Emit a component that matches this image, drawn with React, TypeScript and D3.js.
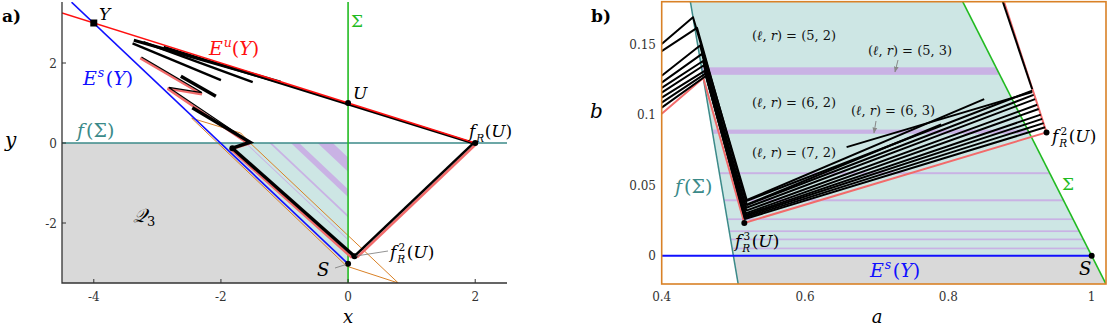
import * as d3 from "d3";

type P = [number, number];

// ---------- panel a ----------
const ticksXA = [-4, -2, 0, 2];
const ticksYA = [-2, 0, 2];
const ptY: P = [-4, 3];
const ptU: P = [0, 1];
const ptFR: P = [2, 0];
const ptFR2: P = [0.1, -2.83];
const ptS: P = [0, -3.02];
const ptKink: P = [-1.82, -0.13];
const esLineA: P[] = [[-4.35, 3.52], [0, -3.02]];
const euLineA: P[] = [[-4.5, 3.25], [2, 0]];
const fSigmaA: P[] = [[-4.5, 0], [2.5, 0]];
const sigmaA: P[] = [[0, 3.55], [0, -3.5]];
const grayA: P[] = [[-4.5, 0], [-2, 0], [0, -3.02], [0, -3.5], [-4.5, -3.5]];
const cyanA: P[] = [[-2, 0], [0, 0], [0, -3.02]];
// purple bands: x where band edges meet y = 0
const bandsA: P[] = [[-1.24, -1.2], [-0.9, -0.77], [-0.48, -0.24], [-1.62, -1.6]];
const orangeA: P[] = [[-2.46, 0.62], [-0.02, -3.08], [0.79, -3.5], [-1.54, 0], [-1.69, 0.25], [-2.46, 0.62]];
const pinkA: P[] = [[-3.27, 2.12], [-2.3, 1.22], [-2.84, 1.36], [-1.57, -0.02], [-1.84, -0.16], [0.06, -2.87]];
const thinA: P[] = [[-3.25, 2.15], [-2.3, 1.26], [-2.82, 1.39], [-1.54, 0.02], [-1.82, -0.13], [0.1, -2.83]];
const thickA: P[][] = [
  [[-2.63, 1.67], [-2.08, 1.17]],
  [[-2.45, 0.88], [-1.54, 0.02], [-1.82, -0.13]],
  [[-1.82, -0.13], [0.1, -2.83]],
];
const fanA: P[][] = [
  [[-3.37, 2.57], [-1.06, 1.52]],
  [[-3.39, 2.49], [-2.0, 1.57]],
  [[-3.22, 2.52], [-1.5, 1.52]],
  [[-2.9, 2.4], [2, -0.02]],
];
const returnPinkA: P[] = [[2.03, 0], [0.14, -2.86]];
const returnBlackA: P[] = [[1.98, 0.01], [0.1, -2.83]];

// ---------- panel b ----------
const ticksXB = [0.4, 0.6, 0.8, 1];
const ticksYB = [0, 0.05, 0.1, 0.15];
const tickLabelsXB = ["0.4", "0.6", "0.8", "1"];
const tickLabelsYB = ["0", "0.05", "0.1", "0.15"];
const fSigmaB: P[] = [[0.44, 0.18], [0.5067, -0.02]];
const sigmaB: P[] = [[0.82, 0.18], [1.02, -0.02]];
const esLineB: P[] = [[0.4, 0], [1, 0]];
const cyanB: P[] = [[0.44, 0.18], [0.82, 0.18], [1, 0], [0.5, 0]];
const grayB: P[] = [[0.5, 0], [1, 0], [1.02, -0.02], [0.5067, -0.02]];
const bandsB: P[] = [
  [0.1282, 0.1335], [0.0864, 0.0894], [0.0578, 0.0592], [0.0386, 0.04],
  [0.0253, 0.0265], [0.0168, 0.018], [0.011, 0.0122], [0.0046, 0.0058],
];
const redB: P[] = [[0.4, 0.1006], [0.458, 0.126], [0.5153, 0.0233], [0.937, 0.0874], [0.877, 0.181]];
const ptFR3B: P = [0.5153, 0.0233];
const ptFR2B: P = [0.937, 0.0874];
const ptSB: P = [1, 0];
// black iterates: left edge b, peak (a, b), corner (a, b), right end (a, b)
const leftB = [0.150, 0.145, 0.1276, 0.1227, 0.119, 0.1156, 0.112, 0.1085, 0.105];
const peakA = [0.4437, 0.4493, 0.4535, 0.4563, 0.4577, 0.459, 0.46, 0.461, 0.462];
const peakB = [0.169, 0.1615, 0.149, 0.143, 0.138, 0.135, 0.131, 0.129, 0.1275];
const cornerA = [0.519, 0.519, 0.518, 0.518, 0.517, 0.517, 0.516, 0.516, 0.516];
const cornerB = [0.039, 0.036, 0.034, 0.032, 0.030, 0.029, 0.028, 0.027, 0.026];
const rightA = [0.917, 0.919, 0.921, 0.924, 0.926, 0.929, 0.931, 0.933, 0.935];
const rightB = [0.117, 0.114, 0.111, 0.107, 0.104, 0.100, 0.097, 0.094, 0.091];
const extraB: P[][] = [
  [[0.876, 0.18], [0.917, 0.118]],
  [[0.658, 0.077], [0.917, 0.116]],
  [[0.519, 0.0395], [0.85, 0.111]],
  [[0.52, 0.0365], [0.79, 0.093]],
];
const lrLabels = ["(5, 2)", "(5, 3)", "(6, 2)", "(6, 3)", "(7, 2)"];

const RED = "#ff1010";
const PINK = "#f26b6b";
const BLUE = "#1010ff";
const GREEN = "#22bb22";
const TEAL = "#3b8a89";
const CYAN = "#cde6e4";
const PURPLE = "#c9b2e4";
const GRAY = "#d9d9d9";
const ORANGE = "#d98126";
const FONT = "'DejaVu Serif', serif";

const xA = d3.scaleLinear().domain([-4.5, 2.5]).range([62, 507]);
const yA = d3.scaleLinear().domain([-3.5, 3.5]).range([283, 3]);
const xB = d3.scaleLinear().domain([0.4, 1.02]).range([661.7, 1106]);
const yB = d3.scaleLinear().domain([-0.02, 0.18]).range([284, 1.7]);

const lineA = d3.line<P>().x((d) => xA(d[0])).y((d) => yA(d[1]));
const lineB = d3.line<P>().x((d) => xB(d[0])).y((d) => yB(d[1]));

const bandPoly = (b: P): P[] => [[b[0], 0], [b[1], 0], [0, 1.5 * b[1]], [0, 1.5 * b[0]]];

// f_R^k(U)
const FR = ({ x, y, sup, s = 18 }: { x: number; y: number; sup?: string; s?: number }) => (
  <g>
    <text x={x} y={y} fontSize={s} fontStyle="italic">f</text>
    <text x={x + 0.42 * s} y={y + 0.28 * s} fontSize={0.62 * s} fontStyle="italic">R</text>
    {sup && <text x={x + 0.5 * s} y={y - 0.42 * s} fontSize={0.62 * s}>{sup}</text>}
    <text x={x + (sup ? 0.98 : 0.92) * s} y={y}  fontSize={s}>(<tspan fontStyle="italic">U</tspan>)</text>
  </g>
);

// E^k(Y)
const EY = ({ x, y, sup, fill, s = 19 }: { x: number; y: number; sup: string; fill: string; s?: number }) => (
  <g fill={fill}>
    <text x={x} y={y} fontSize={s} fontStyle="italic">E</text>
    <text x={x + 0.78 * s} y={y - 0.42 * s} fontSize={0.66 * s} fontStyle="italic">{sup}</text>
    <text x={x + 1.2 * s} y={y} fontSize={s}>(<tspan fontStyle="italic">Y</tspan>)</text>
  </g>
);

const FSig = ({ x, y, s = 19 }: { x: number; y: number; s?: number }) => (
  <text x={x} y={y} fontSize={s} fill={TEAL}>
    <tspan fontStyle="italic">f</tspan><tspan dx={2}>(Σ)</tspan>
  </text>
);

export default function App() {
  const blackCurvesB: P[][] = leftB.map((l, i) => [
    [0.4, l],
    [peakA[i], peakB[i]],
    [cornerA[i], cornerB[i]],
    [rightA[i], rightB[i]],
  ]);
  const lrPos = [
    { x: 794, y: 40 }, { x: 910, y: 55 }, { x: 794, y: 107 }, { x: 893, y: 115 }, { x: 794, y: 157 },
  ];
  return (
    <svg width={1112} height={327} style={{ position: "absolute", left: 0, top: 0, background: "#fff", fontFamily: FONT }}>
      <defs>
        <clipPath id="clipA"><rect x={62} y={2} width={445} height={281} /></clipPath>
        <clipPath id="cyanA"><path d={lineA(cyanA) + "Z"} /></clipPath>
        <clipPath id="clipB"><rect x={661.7} y={1.7} width={444.3} height={282.3} /></clipPath>
        <clipPath id="cyanB"><path d={lineB(cyanB) + "Z"} /></clipPath>
        <marker id="arr" viewBox="0 0 10 10" refX={9} refY={5} markerWidth={6} markerHeight={6} orient="auto">
          <path d="M0,1 L10,5 L0,9 Z" fill="#888" />
        </marker>
      </defs>

      {/* ---------------- panel a ---------------- */}
      <g clipPath="url(#clipA)">
        <path d={lineA(grayA) + "Z"} fill={GRAY} />
        <path d={lineA(cyanA) + "Z"} fill={CYAN} />
        <g clipPath="url(#cyanA)">
          {bandsA.map((b, i) => (
            <path key={i} d={lineA(bandPoly(b)) + "Z"} fill={PURPLE} />
          ))}
        </g>
        <path d={lineA(orangeA)!} fill="none" stroke={ORANGE} strokeWidth={1} />
        <path d={lineA(fSigmaA)!} stroke={TEAL} strokeWidth={1.6} />
        <path d={lineA(sigmaA)!} stroke={GREEN} strokeWidth={1.6} />
        <path d={lineA(esLineA)!} stroke={BLUE} strokeWidth={1.6} />
        {fanA.map((s, i) => (
          <path key={i} d={lineA(s)!} stroke="#000" strokeWidth={i === 0 ? 3 : 2.4} fill="none" />
        ))}
        <path d={lineA(euLineA)!} stroke={RED} strokeWidth={1.6} />
        <path d={lineA(pinkA)!} stroke={PINK} strokeWidth={2.5} fill="none" />
        <path d={lineA(thinA)!} stroke="#000" strokeWidth={1.2} fill="none" />
        {thickA.map((s, i) => (
          <path key={i} d={lineA(s)!} stroke="#000" strokeWidth={3.4} fill="none" />
        ))}
        <path d={lineA(returnPinkA)!} stroke={PINK} strokeWidth={2.6} />
        <path d={lineA(returnBlackA)!} stroke="#000" strokeWidth={2.4} />
        <rect x={xA(ptY[0]) - 3.5} y={yA(ptY[1]) - 3.5} width={7} height={7} fill="#000" />
        {[ptU, ptFR, ptFR2, ptS, ptKink].map((p, i) => (
          <circle key={i} cx={xA(p[0])} cy={yA(p[1])} r={3} fill="#000" />
        ))}
      </g>
      {/* axes a */}
      <path d={`M62,2V283H507`} fill="none" stroke="#333" strokeWidth={1.3} />
      {ticksXA.map((t) => (
        <g key={t}>
          <line x1={xA(t)} x2={xA(t)} y1={283} y2={279} stroke="#333" />
          <text x={xA(t)} y={301} textAnchor="middle" fontSize={12} fill="#333">{t < 0 ? "-" + Math.abs(t) : t}</text>
        </g>
      ))}
      {ticksYA.map((t) => (
        <g key={t}>
          <line x1={62} x2={66} y1={yA(t)} y2={yA(t)} stroke="#333" />
          <text x={57} y={yA(t) + 4.5} textAnchor="end" fontSize={12} fill="#333">{t < 0 ? "-" + Math.abs(t) : t}</text>
        </g>
      ))}
      {/* leader lines a */}
      <line x1={388} y1={251} x2={356} y2={256} stroke="#777" strokeWidth={0.8} />
      <line x1={335} y1={268} x2={346} y2={264.5} stroke="#777" strokeWidth={0.8} />

      {/* labels a */}
      <text x={2} y={22} fontSize={17} fontWeight="bold">a)</text>
      <text x={99} y={20} fontSize={17} fontStyle="italic">Y</text>
      <EY x={209} y={55} sup="u" fill={RED} />
      <EY x={83} y={85} sup="s" fill={BLUE} />
      <FSig x={77} y={137} />
      <text x={351} y={27} fontSize={17} fill={GREEN}>Σ</text>
      <text x={353} y={99} fontSize={17} fontStyle="italic">U</text>
      <FR x={469} y={137} s={17} />
      <text x={133} y={222} fontSize={19}>
        <tspan fontStyle="italic">𝒬</tspan><tspan fontSize={13} dy={4}>3</tspan>
      </text>
      <FR x={390} y={258} sup="2" s={17} />
      <text x={317} y={276} fontSize={18} fontStyle="italic">S</text>
      <text x={5} y={147} fontSize={20} fontStyle="italic">y</text>
      <text x={348} y={323} fontSize={18} textAnchor="middle" fontStyle="italic">x</text>

      {/* ---------------- panel b ---------------- */}
      <g clipPath="url(#clipB)">
        <path d={lineB(cyanB) + "Z"} fill={CYAN} />
        <path d={lineB(grayB) + "Z"} fill={GRAY} />
        <g clipPath="url(#cyanB)">
          {bandsB.map((b, i) => (
            <rect key={i} x={661.7} width={444.3} y={yB(b[1])} height={yB(b[0]) - yB(b[1])} fill={PURPLE} />
          ))}
        </g>
        <path d={lineB(fSigmaB)!} stroke={TEAL} strokeWidth={1.5} />
        <path d={lineB(sigmaB)!} stroke={GREEN} strokeWidth={1.6} />
        <path d={lineB(esLineB)!} stroke={BLUE} strokeWidth={2} />
        <path d={lineB(redB)!} stroke={PINK} strokeWidth={2} fill="none" />
        {blackCurvesB.map((c, i) => (
          <path key={i} d={lineB(c)!} stroke="#000" strokeWidth={2} fill="none" strokeLinejoin="round" />
        ))}
        {extraB.map((c, i) => (
          <path key={i} d={lineB(c)!} stroke="#000" strokeWidth={2} fill="none" />
        ))}
        {[ptFR3B, ptFR2B, ptSB].map((p, i) => (
          <circle key={i} cx={xB(p[0])} cy={yB(p[1])} r={3} fill="#000" />
        ))}
      </g>
      <rect x={661.7} y={1.7} width={444.3} height={282.3} fill="none" stroke={ORANGE} strokeWidth={1.6} />
      {ticksXB.map((t, i) => (
        <text key={t} x={xB(t)} y={301} textAnchor="middle" fontSize={12} fill="#333">{tickLabelsXB[i]}</text>
      ))}
      {ticksYB.map((t, i) => (
        <text key={t} x={656} y={yB(t) + 4.5} textAnchor="end" fontSize={12} fill="#333">{tickLabelsYB[i]}</text>
      ))}
      {/* arrows b */}
      <line x1={898} y1={60} x2={895} y2={72} stroke="#888" strokeWidth={1} markerEnd="url(#arr)" />
      <line x1={876} y1={121} x2={874} y2={133} stroke="#888" strokeWidth={1} markerEnd="url(#arr)" />

      {/* labels b */}
      <text x={591} y={22} fontSize={17} fontWeight="bold">b)</text>
      <text x={590} y={118} fontSize={20} fontStyle="italic">b</text>
      <text x={877} y={323} fontSize={18} textAnchor="middle" fontStyle="italic">a</text>
      {lrLabels.map((t, i) => (
        <text key={i} x={lrPos[i].x} y={lrPos[i].y} fontSize={13} textAnchor="middle" fill="#111">
          (<tspan fontStyle="italic">ℓ</tspan>, <tspan fontStyle="italic">r</tspan>) = {t}
        </text>
      ))}
      <FSig x={675} y={193} />
      <FR x={735} y={247} sup="3" s={17} />
      <FR x={1052} y={142} sup="2" s={17} />
      <text x={1062} y={190} fontSize={17} fill={GREEN}>Σ</text>
      <EY x={870} y={277} sup="s" fill={BLUE} />
      <text x={1079} y={275} fontSize={18} fontStyle="italic">S</text>
    </svg>
  );
}
